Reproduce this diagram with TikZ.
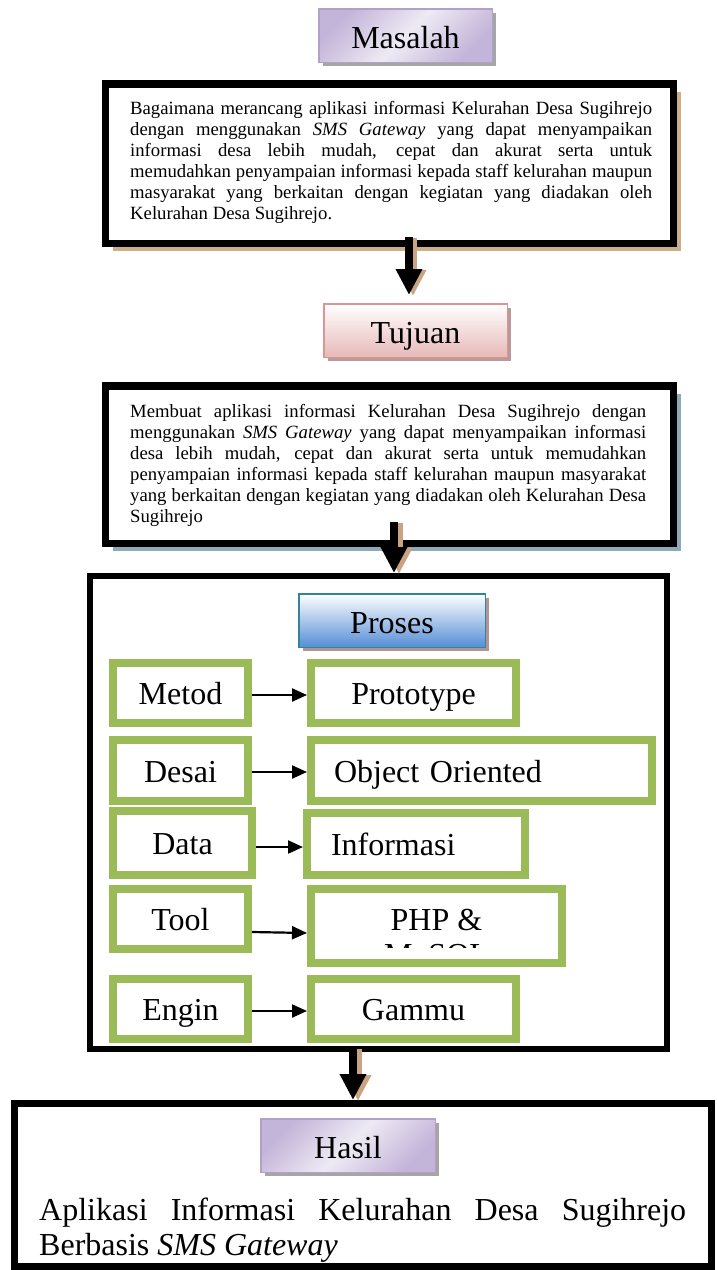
\documentclass[tikz,border=0pt]{standalone}
\usepackage{fontspec}
\setmainfont{Liberation Serif}
\usetikzlibrary{arrows.meta,shadows}

\definecolor{lavlight}{HTML}{EEEAF4}
\definecolor{lavmid}{HTML}{C3B4D9}
\definecolor{lavedge}{HTML}{B2A1C7}
\definecolor{pinkbot}{HTML}{E6B9B8}
\definecolor{pinkedge}{HTML}{D99694}
\definecolor{pinkshadow}{HTML}{B89A9A}
\definecolor{bluebot}{HTML}{558ED5}
\definecolor{tealedge}{HTML}{31849B}
\definecolor{mauveshadow}{HTML}{B39495}
\definecolor{greyshadow}{HTML}{A6A6A6}
\definecolor{tanshadow}{HTML}{CDAE8A}
\definecolor{slateshadow}{HTML}{8FA9B9}
\definecolor{leaf}{HTML}{9BBB59}
\definecolor{tanarrow}{HTML}{C9A382}

\newcommand{\justline}[2]{\makebox[#1][s]{#2}}

\tikzset{
  header/.style={rectangle, inner sep=0pt, line width=1.5pt,
    font=\fontsize{32}{35}\selectfont, text height=33pt, text depth=7pt},
  purplehead/.style={header, draw=lavedge, top color=lavmid, bottom color=lavmid,
    middle color=lavlight, shading angle=45,
    drop shadow={shadow xshift=4pt, shadow yshift=-4pt, fill=greyshadow, opacity=1}},
  pinkhead/.style={header, draw=pinkedge, top color=white, bottom color=pinkbot,
    drop shadow={shadow xshift=4pt, shadow yshift=-4pt, fill=pinkshadow, opacity=1}},
  bluehead/.style={header, draw=tealedge, top color=white, bottom color=bluebot,
    drop shadow={shadow xshift=4pt, shadow yshift=-4pt, fill=mauveshadow, opacity=1}},
  framebox/.style={rectangle, draw=black, fill=white, inner sep=0pt},
  bodytext/.style={inner sep=0pt, anchor=base west, font=\fontsize{18.7}{21}\selectfont},
  bigtext/.style={inner sep=0pt, anchor=base west, font=\fontsize{32}{35}\selectfont},
  greenbox/.style={rectangle, draw=leaf, line width=8pt, fill=white, inner sep=0pt,
    font=\fontsize{32}{35}\selectfont, text height=31pt, text depth=8pt},
  bigarrow/.style={draw=black, line width=8pt, -{Triangle[length=26pt,width=25pt]}},
  bigarrowshade/.style={draw=tanarrow, line width=8pt, -{Triangle[length=26pt,width=25pt]}},
  thinarrow/.style={draw=black, line width=2.2pt, -{Triangle[length=15pt,width=13pt]}},
}

\begin{document}
\begin{tikzpicture}[x=1pt,y=-1pt]
\useasboundingbox (0,0) rectangle (716,1270);

% --- Masalah ---
\node[purplehead, minimum width=173.5pt, minimum height=53.5pt] (masalah) at (405.5,35.5) {Masalah};

\node[framebox, line width=7.5pt, minimum width=567.8pt, minimum height=159.5pt,
  drop shadow={shadow xshift=8pt, shadow yshift=-8pt, fill=tanshadow, opacity=1}] (box1) at (389.35,163.5) {};
\node[bodytext] (t1a) at (130,114) {\justline{522pt}{Bagaimana merancang aplikasi informasi Kelurahan Desa Sugihrejo}};
\node[bodytext] (t1b) at (130,135) {\justline{522pt}{dengan menggunakan \textit{SMS Gateway} yang dapat menyampaikan}};
\node[bodytext] (t1c) at (130,156) {\justline{522pt}{informasi desa lebih mudah, cepat dan akurat serta untuk}};
\node[bodytext] (t1d) at (130,177) {\justline{522pt}{memudahkan penyampaian informasi kepada staff kelurahan maupun}};
\node[bodytext] (t1e) at (130,198) {\justline{522pt}{masyarakat yang berkaitan dengan kegiatan yang diadakan oleh}};
\node[bodytext] (t1f) at (130,219) {Kelurahan Desa Sugihrejo.};

% --- Tujuan ---
\node[pinkhead, minimum width=183.5pt, minimum height=53.5pt] (tujuan) at (415.5,330.5) {Tujuan};

\node[framebox, line width=7.5pt, minimum width=567.8pt, minimum height=157.5pt,
  drop shadow={shadow xshift=8pt, shadow yshift=-8pt, fill=slateshadow, opacity=1}] (box2) at (389.35,464.5) {};
\node[bodytext] (t2a) at (130,417) {\justline{516pt}{Membuat aplikasi informasi Kelurahan Desa Sugihrejo dengan}};
\node[bodytext] (t2b) at (130,438) {\justline{516pt}{menggunakan \textit{SMS Gateway} yang dapat menyampaikan informasi}};
\node[bodytext] (t2c) at (130,459) {\justline{516pt}{desa lebih mudah, cepat dan akurat serta untuk memudahkan}};
\node[bodytext] (t2d) at (130,480) {\justline{516pt}{penyampaian informasi kepada staff kelurahan maupun masyarakat}};
\node[bodytext] (t2e) at (130,501) {\justline{516pt}{yang berkaitan dengan kegiatan yang diadakan oleh Kelurahan Desa}};
\node[bodytext] (t2f) at (130,522) {Sugihrejo};

% --- Proses ---
\node[framebox, line width=6pt, minimum width=577pt, minimum height=473pt] (proses) at (378.5,812.5) {};
\node[bluehead, minimum width=186.5pt, minimum height=53.5pt] (proseshead) at (392,620.5) {Proses};

\node[greenbox, minimum width=135pt, minimum height=60pt] (metod) at (180.5,693) {Metod};
\node[greenbox, minimum width=205pt, minimum height=60pt] (proto) at (413.5,693) {Prototype};

\node[greenbox, minimum width=135pt, minimum height=61pt] (desai) at (180.5,770.5) {Desai};
\node[greenbox, minimum height=61pt, text width=295pt, inner xsep=23pt, align=left] (oo) at (481.5,770.5) {Object Oriented};

\node[greenbox, minimum width=139pt, minimum height=64pt] (data) at (182.5,843) {Data};
\node[greenbox, minimum height=62pt, text width=170pt, inner xsep=24pt, align=left] (info) at (416,844) {Informasi};

\node[greenbox, minimum width=135pt, minimum height=60pt] (tool) at (180.5,919) {Tool};
\node[greenbox, minimum width=251pt, minimum height=74pt] (php) at (436.5,926) {};
\begin{scope}
  \clip (311,889) rectangle (562,947.5);
  \node[inner sep=0pt, anchor=base, font=\fontsize{32}{35}\selectfont] (phpa) at (436.5,930) {PHP \&};
  \node[inner sep=0pt, anchor=base, font=\fontsize{32}{35}\selectfont] (phpb) at (436.5,965) {MySQL};
\end{scope}

\node[greenbox, minimum width=135pt, minimum height=60pt] (engin) at (180.5,1009) {Engin};
\node[greenbox, minimum width=205pt, minimum height=60pt] (gammu) at (413.5,1009) {Gammu};

\draw[thinarrow] ([yshift=-2pt]metod.east) -- ([yshift=-2pt]proto.west);
\draw[thinarrow] ([yshift=-1.5pt]desai.east) -- ([yshift=-1.5pt]oo.west);
\draw[thinarrow] ([yshift=-4pt]data.east) -- ([yshift=-3pt]info.west);
\draw[thinarrow] ([yshift=-13pt]tool.east) -- ([yshift=-7pt]php.west);
\draw[thinarrow] ([yshift=-2pt]engin.east) -- ([yshift=-2pt]gammu.west);

% --- Hasil ---
\node[framebox, line width=7pt, minimum width=697pt, minimum height=163pt] (hasil) at (363,1185) {};
\node[purplehead, minimum width=174.5pt, minimum height=53.5pt] (hasilhead) at (348,1145.5) {Hasil};
\node[bigtext] (h1) at (39,1220) {\justline{647pt}{Aplikasi Informasi Kelurahan Desa Sugihrejo}};
\node[bigtext] (h2) at (39,1255) {Berbasis \textit{SMS Gateway}};
\draw[black, line width=7pt] (hasil.south west) ++(3.5pt,3.5pt) -- ([xshift=-3.5pt,yshift=3.5pt]hasil.south east);

% --- flow arrows between the stages ---
\draw[bigarrowshade] ([xshift=23.65pt,yshift=9pt]box1.south) -- ([xshift=-2.5pt,yshift=7pt]tujuan.north);
\draw[bigarrow] ([xshift=19.65pt,yshift=10pt]box1.south) -- ([xshift=-6.5pt,yshift=8pt]tujuan.north);

\draw[bigarrowshade] ([xshift=9.65pt,yshift=24pt]box2.south) -- ([xshift=20.5pt,yshift=-1pt]proses.north);
\draw[bigarrow] ([xshift=4.65pt,yshift=25pt]box2.south) -- ([xshift=15.5pt]proses.north);

\draw[bigarrowshade] ([xshift=-20.5pt,yshift=3pt]proses.south) -- ([xshift=-5pt,yshift=-1pt]hasil.north);
\draw[bigarrow] ([xshift=-25.5pt,yshift=4pt]proses.south) -- ([xshift=-10pt]hasil.north);
\end{tikzpicture}
\end{document}
